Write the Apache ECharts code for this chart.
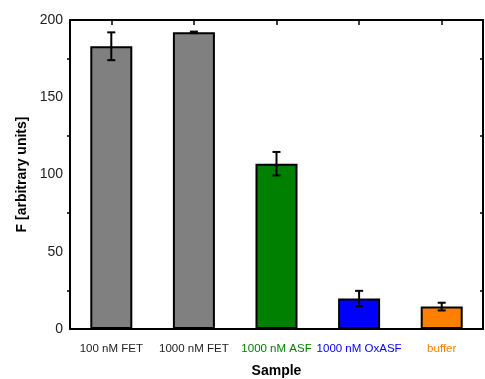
<!DOCTYPE html>
<html>
<head>
<meta charset="utf-8">
<script src="https://cdn.jsdelivr.net/npm/echarts@6/dist/echarts.min.js"></script>
<style>
  html, body { margin: 0; padding: 0; background: #fff; }
  #chart { width: 485px; height: 379px; }
</style>
</head>
<body>
<div id="chart"></div>
<script>
// samples and measured fluorescence
const samples = ["100 nM FET", "1000 nM FET", "1000 nM ASF", "1000 nM OxASF", "buffer"];
const values = [183, 192, 107, 19.7, 14.5];
const errors = [9, 0.5, 7.6, 5, 2.5];
const barColors = ["#808080", "#808080", "#008000", "#0000ff", "#ff8000"];
const labelColors = ["#222", "#222", "#008000", "#0000ff", "#ff8000"];

const chart = echarts.init(document.getElementById("chart"));

const font = "Liberation Sans, Arial, sans-serif";

const option = {
  animation: false,
  grid: { left: 70, right: 2, top: 20, bottom: 50, outerBoundsMode: "none" },
  xAxis: [
    {
      type: "category",
      data: samples,
      name: "Sample",
      nameLocation: "middle",
      nameGap: 35,
      nameTextStyle: { fontFamily: font, fontWeight: "bold", fontSize: 14, color: "#000" },
      axisLine: { onZero: false, lineStyle: { color: "#000", width: 2 } },
      axisTick: { alignWithLabel: true, length: 5, lineStyle: { color: "#000", width: 1.5 } },
      axisLabel: {
        fontFamily: font,
        fontSize: 11.5,
        margin: 14,
        interval: 0,
        color: (val, idx) => labelColors[idx],
      },
    },
    {
      type: "category",
      data: samples,
      position: "top",
      axisLine: { onZero: false, lineStyle: { color: "#000", width: 2 } },
      axisTick: { show: true, interval: 0, alignWithLabel: true, inside: true, length: 5, lineStyle: { color: "#000", width: 1.5 } },
      axisLabel: { show: false, interval: 0 },
    },
  ],
  yAxis: [
    {
      type: "value",
      min: 0,
      max: 200,
      interval: 50,
      name: "F [arbitrary units]",
      nameLocation: "middle",
      nameGap: 40,
      nameTextStyle: { fontFamily: font, fontWeight: "bold", fontSize: 14, color: "#000" },
      axisLine: { show: true, onZero: false, lineStyle: { color: "#000", width: 2 } },
      axisTick: { length: 5, lineStyle: { color: "#000", width: 1.5 } },
      minorTick: { show: true, splitNumber: 2, length: 3, lineStyle: { color: "#000", width: 1.5 } },
      axisLabel: { fontFamily: font, fontSize: 14, color: "#222", margin: 7 },
      splitLine: { show: false },
    },
    {
      type: "value",
      min: 0,
      max: 200,
      interval: 50,
      position: "right",
      axisLine: { show: true, onZero: false, lineStyle: { color: "#000", width: 2 } },
      axisTick: { inside: true, length: 5, lineStyle: { color: "#000", width: 1.5 } },
      minorTick: { show: true, splitNumber: 2, length: 3, lineStyle: { color: "#000", width: 1.5 } },
      axisLabel: { show: false },
      splitLine: { show: false },
    },
  ],
  series: [
    {
      type: "bar",
      data: values.map((v, i) => ({ value: v, itemStyle: { color: barColors[i] } })),
      barWidth: 42,
      itemStyle: { borderColor: "#000", borderWidth: 2 },
    },
    {
      type: "custom",
      data: values.map((v, i) => [i, v - errors[i], v + errors[i]]),
      renderItem: (params, api) => {
        const lo = api.coord([api.value(0), api.value(1)]);
        const hi = api.coord([api.value(0), api.value(2)]);
        const cap = 4;
        const style = { stroke: "#000", lineWidth: 2 };
        return {
          type: "group",
          children: [
            { type: "line", shape: { x1: hi[0], y1: hi[1], x2: lo[0], y2: lo[1] }, style },
            { type: "line", shape: { x1: hi[0] - cap, y1: hi[1], x2: hi[0] + cap, y2: hi[1] }, style },
            { type: "line", shape: { x1: lo[0] - cap, y1: lo[1], x2: lo[0] + cap, y2: lo[1] }, style },
          ],
        };
      },
      z: 5,
    },
  ],
};

chart.setOption(option);
</script>
</body>
</html>
